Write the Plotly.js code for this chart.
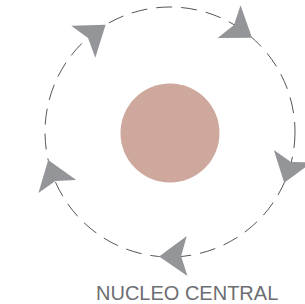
<!DOCTYPE html>
<html><head><meta charset="utf-8">
<script src="https://cdn.plot.ly/plotly-3.0.1.min.js"></script>
<style>html,body{margin:0;padding:0;background:#fff;overflow:hidden}</style>
</head><body><div id="chart" style="width:305px;height:304px"></div>
<script>
// ---- data ----
const arrowAngles = [-49, 24, 95, 167, 239];   // arrow tip positions along the orbit (deg, clockwise from 3 o'clock)
const centerLabel = ['NUCLEO CENTRAL'];

// ---- layout geometry ----
const CX = 170, CY = 132, R = 125, CORE_R = 49.5;
const AL = 28, AW = 40, AN = 22, LAG = 6;
const ARROW_COLOR = '#939598';

const traces = arrowAngles.map(a => {
  const t = a * Math.PI / 180;
  const tx = CX + R * Math.cos(t), ty = CY + R * Math.sin(t);
  const d = (a + 90 - LAG) * Math.PI / 180;
  const ux = Math.cos(d), uy = Math.sin(d);
  const px = -uy, py = ux;
  const pts = [[0, 0], [-AL, AW / 2], [-AN, 0], [-AL, -AW / 2], [0, 0]];
  return {
    type: 'scatter', mode: 'lines', fill: 'toself', fillcolor: ARROW_COLOR,
    line: {width: 0, color: ARROW_COLOR},
    x: pts.map(p => tx + p[0] * ux + p[1] * px),
    y: pts.map(p => ty + p[0] * uy + p[1] * py),
    hoverinfo: 'skip', showlegend: false
  };
});

const layout = {
  width: 305, height: 304,
  margin: {l: 0, r: 0, t: 0, b: 0, pad: 0},
  paper_bgcolor: '#ffffff', plot_bgcolor: '#ffffff',
  showlegend: false,
  xaxis: {range: [0, 305], visible: false, fixedrange: true},
  yaxis: {range: [304, 0], visible: false, fixedrange: true},
  shapes: [
    {type: 'circle', xref: 'x', yref: 'y', layer: 'below',
     x0: CX - R, x1: CX + R, y0: CY - R, y1: CY + R,
     line: {color: '#555555', width: 1, dash: '16px,9px'}},
    {type: 'circle', xref: 'x', yref: 'y', layer: 'below',
     x0: CX - CORE_R, x1: CX + CORE_R, y0: CY + 1 - CORE_R, y1: CY + 1 + CORE_R,
     fillcolor: '#cea89d', line: {width: 0}}
  ],
  annotations: [
    {text: centerLabel[0], x: 187, y: 293, xref: 'x', yref: 'y', showarrow: false,
     xanchor: 'center', yanchor: 'middle',
     font: {family: 'Liberation Sans, Arial, sans-serif', size: 20, color: '#6d6e71'}}
  ]
};

Plotly.newPlot('chart', traces, layout, {staticPlot: true, displayModeBar: false});
</script>
</body></html>
